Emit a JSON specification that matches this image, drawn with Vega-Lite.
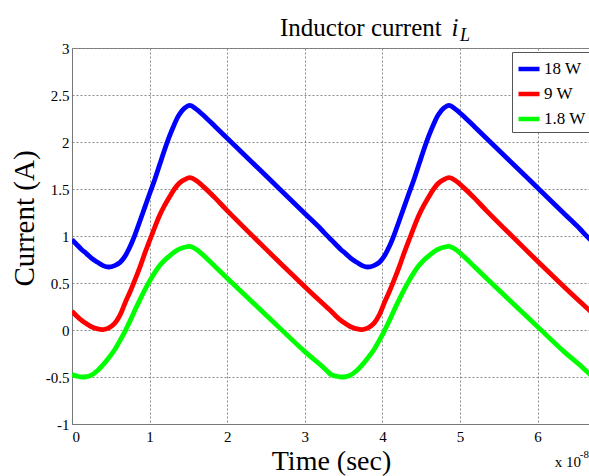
{
  "$schema": "https://vega.github.io/schema/vega-lite/v6.json",
  "width": 518,
  "height": 376,
  "autosize": {"type": "none"},
  "padding": {"left": 72, "top": 48, "right": 0, "bottom": 52},
  "background": "white",
  "config": {
    "font": "Liberation Serif",
    "view": {"stroke": "#777", "strokeWidth": 1},
    "style": {
      "guide-label": {"font": "Liberation Serif", "fill": "black"},
      "guide-title": {"font": "Liberation Serif", "fill": "black"}
    },
    "axis": {
      "grid": true,
      "gridColor": "#8a8a8a",
      "gridDash": [2, 2],
      "gridWidth": 1,
      "domainColor": "#777",
      "ticks": false,
      "labelFont": "Liberation Serif",
      "labelFontSize": 15,
      "labelColor": "black",
      "titleFont": "Liberation Serif",
      "titleFontWeight": "normal",
      "titleColor": "black"
    },
    "legend": {
      "orient": "none",
      "legendX": 440,
      "legendY": 4,
      "fillColor": "white",
      "strokeColor": "#555",
      "padding": 4,
      "symbolType": "stroke",
      "symbolSize": 441,
      "symbolStrokeWidth": 4.5,
      "labelFont": "Liberation Serif",
      "labelFontSize": 17,
      "labelColor": "black",
      "labelOffset": 2,
      "rowPadding": 3
    }
  },
  "layer": [
    {
      "data": {
        "values": [
          {"series": "18 W", "time": 0, "current": 0.96},
          {"series": "18 W", "time": 0.06, "current": 0.91},
          {"series": "18 W", "time": 0.12, "current": 0.86},
          {"series": "18 W", "time": 0.19, "current": 0.81},
          {"series": "18 W", "time": 0.25, "current": 0.765},
          {"series": "18 W", "time": 0.33, "current": 0.72},
          {"series": "18 W", "time": 0.4, "current": 0.685},
          {"series": "18 W", "time": 0.47, "current": 0.67},
          {"series": "18 W", "time": 0.55, "current": 0.685},
          {"series": "18 W", "time": 0.62, "current": 0.72},
          {"series": "18 W", "time": 0.68, "current": 0.78},
          {"series": "18 W", "time": 0.75, "current": 0.89},
          {"series": "18 W", "time": 0.81, "current": 1.01},
          {"series": "18 W", "time": 0.88, "current": 1.17},
          {"series": "18 W", "time": 0.94, "current": 1.31},
          {"series": "18 W", "time": 1.0, "current": 1.45},
          {"series": "18 W", "time": 1.07, "current": 1.61},
          {"series": "18 W", "time": 1.13, "current": 1.76},
          {"series": "18 W", "time": 1.19, "current": 1.91},
          {"series": "18 W", "time": 1.26, "current": 2.07},
          {"series": "18 W", "time": 1.32, "current": 2.19},
          {"series": "18 W", "time": 1.38, "current": 2.29},
          {"series": "18 W", "time": 1.45, "current": 2.36},
          {"series": "18 W", "time": 1.52, "current": 2.39},
          {"series": "18 W", "time": 1.6, "current": 2.35},
          {"series": "18 W", "time": 1.7, "current": 2.28},
          {"series": "18 W", "time": 1.85, "current": 2.16},
          {"series": "18 W", "time": 2.0, "current": 2.04},
          {"series": "18 W", "time": 2.5, "current": 1.64},
          {"series": "18 W", "time": 3.0, "current": 1.24},
          {"series": "18 W", "time": 3.2, "current": 1.08},
          {"series": "18 W", "time": 3.28, "current": 1.01},
          {"series": "18 W", "time": 3.34, "current": 0.96},
          {"series": "18 W", "time": 3.4, "current": 0.91},
          {"series": "18 W", "time": 3.46, "current": 0.86},
          {"series": "18 W", "time": 3.53, "current": 0.81},
          {"series": "18 W", "time": 3.59, "current": 0.765},
          {"series": "18 W", "time": 3.67, "current": 0.72},
          {"series": "18 W", "time": 3.74, "current": 0.685},
          {"series": "18 W", "time": 3.81, "current": 0.67},
          {"series": "18 W", "time": 3.89, "current": 0.685},
          {"series": "18 W", "time": 3.96, "current": 0.72},
          {"series": "18 W", "time": 4.02, "current": 0.78},
          {"series": "18 W", "time": 4.09, "current": 0.89},
          {"series": "18 W", "time": 4.15, "current": 1.01},
          {"series": "18 W", "time": 4.22, "current": 1.17},
          {"series": "18 W", "time": 4.28, "current": 1.31},
          {"series": "18 W", "time": 4.34, "current": 1.45},
          {"series": "18 W", "time": 4.41, "current": 1.61},
          {"series": "18 W", "time": 4.47, "current": 1.76},
          {"series": "18 W", "time": 4.53, "current": 1.91},
          {"series": "18 W", "time": 4.6, "current": 2.07},
          {"series": "18 W", "time": 4.66, "current": 2.19},
          {"series": "18 W", "time": 4.72, "current": 2.29},
          {"series": "18 W", "time": 4.79, "current": 2.36},
          {"series": "18 W", "time": 4.86, "current": 2.39},
          {"series": "18 W", "time": 4.94, "current": 2.35},
          {"series": "18 W", "time": 5.04, "current": 2.28},
          {"series": "18 W", "time": 5.19, "current": 2.16},
          {"series": "18 W", "time": 5.34, "current": 2.04},
          {"series": "18 W", "time": 5.84, "current": 1.64},
          {"series": "18 W", "time": 6.34, "current": 1.24},
          {"series": "18 W", "time": 6.54, "current": 1.08},
          {"series": "18 W", "time": 6.62, "current": 1.01},
          {"series": "18 W", "time": 6.68, "current": 0.96},

          {"series": "9 W", "time": 0, "current": 0.2},
          {"series": "9 W", "time": 0.06, "current": 0.15},
          {"series": "9 W", "time": 0.12, "current": 0.105},
          {"series": "9 W", "time": 0.19, "current": 0.065},
          {"series": "9 W", "time": 0.25, "current": 0.035},
          {"series": "9 W", "time": 0.33, "current": 0.012},
          {"series": "9 W", "time": 0.4, "current": 0.005},
          {"series": "9 W", "time": 0.47, "current": 0.02},
          {"series": "9 W", "time": 0.55, "current": 0.07},
          {"series": "9 W", "time": 0.62, "current": 0.16},
          {"series": "9 W", "time": 0.68, "current": 0.28},
          {"series": "9 W", "time": 0.75, "current": 0.41},
          {"series": "9 W", "time": 0.81, "current": 0.53},
          {"series": "9 W", "time": 0.88, "current": 0.68},
          {"series": "9 W", "time": 0.94, "current": 0.82},
          {"series": "9 W", "time": 1.0, "current": 0.95},
          {"series": "9 W", "time": 1.07, "current": 1.1},
          {"series": "9 W", "time": 1.13, "current": 1.22},
          {"series": "9 W", "time": 1.19, "current": 1.32},
          {"series": "9 W", "time": 1.26, "current": 1.42},
          {"series": "9 W", "time": 1.32, "current": 1.5},
          {"series": "9 W", "time": 1.38, "current": 1.56},
          {"series": "9 W", "time": 1.45, "current": 1.6},
          {"series": "9 W", "time": 1.52, "current": 1.62},
          {"series": "9 W", "time": 1.6, "current": 1.59},
          {"series": "9 W", "time": 1.7, "current": 1.52},
          {"series": "9 W", "time": 1.85, "current": 1.4},
          {"series": "9 W", "time": 2.0, "current": 1.27},
          {"series": "9 W", "time": 2.5, "current": 0.86},
          {"series": "9 W", "time": 3.0, "current": 0.46},
          {"series": "9 W", "time": 3.2, "current": 0.305},
          {"series": "9 W", "time": 3.28, "current": 0.245},
          {"series": "9 W", "time": 3.34, "current": 0.2},
          {"series": "9 W", "time": 3.4, "current": 0.15},
          {"series": "9 W", "time": 3.46, "current": 0.105},
          {"series": "9 W", "time": 3.53, "current": 0.065},
          {"series": "9 W", "time": 3.59, "current": 0.035},
          {"series": "9 W", "time": 3.67, "current": 0.012},
          {"series": "9 W", "time": 3.74, "current": 0.005},
          {"series": "9 W", "time": 3.81, "current": 0.02},
          {"series": "9 W", "time": 3.89, "current": 0.07},
          {"series": "9 W", "time": 3.96, "current": 0.16},
          {"series": "9 W", "time": 4.02, "current": 0.28},
          {"series": "9 W", "time": 4.09, "current": 0.41},
          {"series": "9 W", "time": 4.15, "current": 0.53},
          {"series": "9 W", "time": 4.22, "current": 0.68},
          {"series": "9 W", "time": 4.28, "current": 0.82},
          {"series": "9 W", "time": 4.34, "current": 0.95},
          {"series": "9 W", "time": 4.41, "current": 1.1},
          {"series": "9 W", "time": 4.47, "current": 1.22},
          {"series": "9 W", "time": 4.53, "current": 1.32},
          {"series": "9 W", "time": 4.6, "current": 1.42},
          {"series": "9 W", "time": 4.66, "current": 1.5},
          {"series": "9 W", "time": 4.72, "current": 1.56},
          {"series": "9 W", "time": 4.79, "current": 1.6},
          {"series": "9 W", "time": 4.86, "current": 1.62},
          {"series": "9 W", "time": 4.94, "current": 1.59},
          {"series": "9 W", "time": 5.04, "current": 1.52},
          {"series": "9 W", "time": 5.19, "current": 1.4},
          {"series": "9 W", "time": 5.34, "current": 1.27},
          {"series": "9 W", "time": 5.84, "current": 0.86},
          {"series": "9 W", "time": 6.34, "current": 0.46},
          {"series": "9 W", "time": 6.54, "current": 0.305},
          {"series": "9 W", "time": 6.62, "current": 0.245},
          {"series": "9 W", "time": 6.68, "current": 0.2},

          {"series": "1.8 W", "time": 0, "current": -0.475},
          {"series": "1.8 W", "time": 0.06, "current": -0.49},
          {"series": "1.8 W", "time": 0.12, "current": -0.5},
          {"series": "1.8 W", "time": 0.19, "current": -0.495},
          {"series": "1.8 W", "time": 0.25, "current": -0.48},
          {"series": "1.8 W", "time": 0.33, "current": -0.43},
          {"series": "1.8 W", "time": 0.4, "current": -0.37},
          {"series": "1.8 W", "time": 0.47, "current": -0.3},
          {"series": "1.8 W", "time": 0.55, "current": -0.21},
          {"series": "1.8 W", "time": 0.62, "current": -0.11},
          {"series": "1.8 W", "time": 0.68, "current": -0.02},
          {"series": "1.8 W", "time": 0.75, "current": 0.1},
          {"series": "1.8 W", "time": 0.81, "current": 0.21},
          {"series": "1.8 W", "time": 0.88, "current": 0.33},
          {"series": "1.8 W", "time": 0.94, "current": 0.43},
          {"series": "1.8 W", "time": 1.0, "current": 0.52},
          {"series": "1.8 W", "time": 1.07, "current": 0.615},
          {"series": "1.8 W", "time": 1.13, "current": 0.685},
          {"series": "1.8 W", "time": 1.19, "current": 0.74},
          {"series": "1.8 W", "time": 1.26, "current": 0.79},
          {"series": "1.8 W", "time": 1.32, "current": 0.83},
          {"series": "1.8 W", "time": 1.38, "current": 0.86},
          {"series": "1.8 W", "time": 1.45, "current": 0.88},
          {"series": "1.8 W", "time": 1.52, "current": 0.89},
          {"series": "1.8 W", "time": 1.6, "current": 0.86},
          {"series": "1.8 W", "time": 1.7, "current": 0.79},
          {"series": "1.8 W", "time": 1.85, "current": 0.67},
          {"series": "1.8 W", "time": 2.0, "current": 0.55},
          {"series": "1.8 W", "time": 2.5, "current": 0.16},
          {"series": "1.8 W", "time": 3.0, "current": -0.23},
          {"series": "1.8 W", "time": 3.2, "current": -0.37},
          {"series": "1.8 W", "time": 3.28, "current": -0.43},
          {"series": "1.8 W", "time": 3.34, "current": -0.475},
          {"series": "1.8 W", "time": 3.4, "current": -0.49},
          {"series": "1.8 W", "time": 3.46, "current": -0.5},
          {"series": "1.8 W", "time": 3.53, "current": -0.495},
          {"series": "1.8 W", "time": 3.59, "current": -0.48},
          {"series": "1.8 W", "time": 3.67, "current": -0.43},
          {"series": "1.8 W", "time": 3.74, "current": -0.37},
          {"series": "1.8 W", "time": 3.81, "current": -0.3},
          {"series": "1.8 W", "time": 3.89, "current": -0.21},
          {"series": "1.8 W", "time": 3.96, "current": -0.11},
          {"series": "1.8 W", "time": 4.02, "current": -0.02},
          {"series": "1.8 W", "time": 4.09, "current": 0.1},
          {"series": "1.8 W", "time": 4.15, "current": 0.21},
          {"series": "1.8 W", "time": 4.22, "current": 0.33},
          {"series": "1.8 W", "time": 4.28, "current": 0.43},
          {"series": "1.8 W", "time": 4.34, "current": 0.52},
          {"series": "1.8 W", "time": 4.41, "current": 0.615},
          {"series": "1.8 W", "time": 4.47, "current": 0.685},
          {"series": "1.8 W", "time": 4.53, "current": 0.74},
          {"series": "1.8 W", "time": 4.6, "current": 0.79},
          {"series": "1.8 W", "time": 4.66, "current": 0.83},
          {"series": "1.8 W", "time": 4.72, "current": 0.86},
          {"series": "1.8 W", "time": 4.79, "current": 0.88},
          {"series": "1.8 W", "time": 4.86, "current": 0.89},
          {"series": "1.8 W", "time": 4.94, "current": 0.86},
          {"series": "1.8 W", "time": 5.04, "current": 0.79},
          {"series": "1.8 W", "time": 5.19, "current": 0.67},
          {"series": "1.8 W", "time": 5.34, "current": 0.55},
          {"series": "1.8 W", "time": 5.84, "current": 0.16},
          {"series": "1.8 W", "time": 6.34, "current": -0.23},
          {"series": "1.8 W", "time": 6.54, "current": -0.37},
          {"series": "1.8 W", "time": 6.62, "current": -0.43},
          {"series": "1.8 W", "time": 6.68, "current": -0.475}
        ]
      },
      "mark": {"type": "line", "strokeWidth": 4.8, "interpolate": "catmull-rom", "clip": true},
      "encoding": {
        "x": {
          "field": "time",
          "type": "quantitative",
          "title": "Time (sec)",
          "scale": {"domain": [0, 6.675], "nice": false, "zero": false},
          "axis": {
            "values": [0, 1, 2, 3, 4, 5, 6],
            "labelExpr": "'' + datum.value",
            "labelFont": "Liberation Serif",
            "labelFontSize": 15,
            "labelPadding": 5,
            "titleFont": "Liberation Serif",
            "titleFontSize": 28,
            "titleBaseline": "alphabetic",
            "titleX": 259,
            "titleY": 45
          }
        },
        "y": {
          "field": "current",
          "type": "quantitative",
          "title": "Current (A)",
          "scale": {"domain": [-1, 3], "nice": false, "zero": false},
          "axis": {
            "values": [-1, -0.5, 0, 0.5, 1, 1.5, 2, 2.5, 3],
            "labelExpr": "'' + datum.value",
            "labelFont": "Liberation Serif",
            "labelFontSize": 15,
            "labelPadding": 3,
            "titleFont": "Liberation Serif",
            "titleFontSize": 29,
            "titleAngle": 270,
            "titleBaseline": "alphabetic",
            "titleAlign": "center",
            "titleX": -39,
            "titleY": 170
          }
        },
        "color": {
          "field": "series",
          "type": "nominal",
          "title": null,
          "scale": {"domain": ["18 W", "9 W", "1.8 W"], "range": ["#0000ff", "#ff0000", "#00ff00"]},
          "legend": {"labelFont": "Liberation Serif", "labelFontSize": 17}
        }
      }
    },
    {
      "data": {"values": [{"label": "Inductor current"}]},
      "mark": {"type": "text", "font": "Liberation Serif", "fontSize": 25, "align": "left", "baseline": "alphabetic", "dy": -12, "color": "black"},
      "encoding": {
        "x": {"datum": 2.68, "type": "quantitative", "title": "Time (sec)"},
        "y": {"datum": 3, "type": "quantitative", "title": "Current (A)"},
        "text": {"field": "label"}
      }
    },
    {
      "data": {"values": [{"label": "i"}]},
      "mark": {"type": "text", "font": "Liberation Serif", "fontStyle": "italic", "fontSize": 25, "align": "left", "baseline": "alphabetic", "dy": -12, "color": "black"},
      "encoding": {
        "x": {"datum": 4.89, "type": "quantitative", "title": "Time (sec)"},
        "y": {"datum": 3, "type": "quantitative", "title": "Current (A)"},
        "text": {"field": "label"}
      }
    },
    {
      "data": {"values": [{"label": "L"}]},
      "mark": {"type": "text", "font": "Liberation Serif", "fontStyle": "italic", "fontSize": 18, "align": "left", "baseline": "alphabetic", "dy": -7, "color": "black"},
      "encoding": {
        "x": {"datum": 5.0, "type": "quantitative", "title": "Time (sec)"},
        "y": {"datum": 3, "type": "quantitative", "title": "Current (A)"},
        "text": {"field": "label"}
      }
    },
    {
      "data": {"values": [{"label": "x 10"}]},
      "mark": {"type": "text", "font": "Liberation Serif", "fontSize": 15, "align": "right", "baseline": "alphabetic", "dx": -9, "dy": 43, "color": "black"},
      "encoding": {
        "x": {"datum": 6.675, "type": "quantitative", "title": "Time (sec)"},
        "y": {"datum": -1, "type": "quantitative", "title": "Current (A)"},
        "text": {"field": "label"}
      }
    },
    {
      "data": {"values": [{"label": "-8"}]},
      "mark": {"type": "text", "font": "Liberation Serif", "fontSize": 11, "align": "right", "baseline": "alphabetic", "dx": -1, "dy": 34, "color": "black"},
      "encoding": {
        "x": {"datum": 6.675, "type": "quantitative", "title": "Time (sec)"},
        "y": {"datum": -1, "type": "quantitative", "title": "Current (A)"},
        "text": {"field": "label"}
      }
    }
  ]
}
